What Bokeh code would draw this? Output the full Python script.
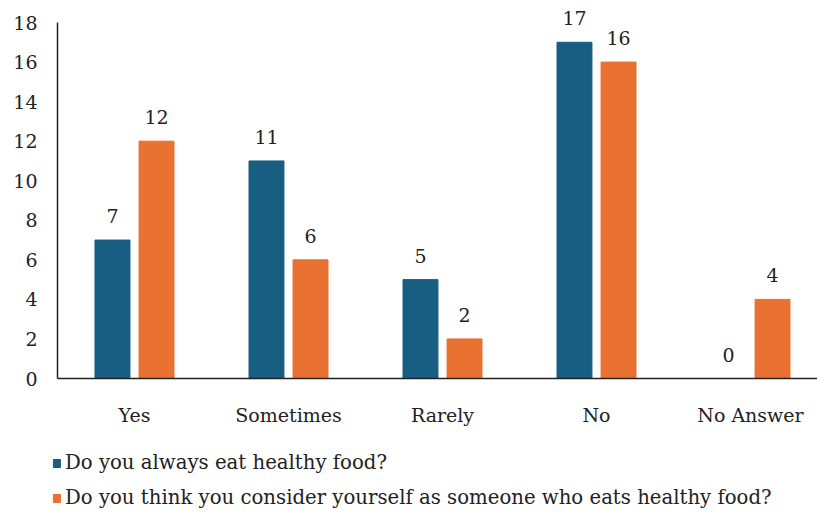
from bokeh.plotting import figure
from bokeh.layouts import column
from bokeh.models import ColumnDataSource, FixedTicker, Legend, LegendItem, Range1d
from bokeh.core.properties import value
from bokeh.embed import file_html
from bokeh.resources import INLINE

categories = ["Yes", "Sometimes", "Rarely", "No", "No Answer"]
always_healthy = [7, 11, 5, 17, 0]
consider_healthy = [12, 6, 2, 16, 4]
series_names = ["Do you always eat healthy food?",
                "Do you think you consider yourself as someone who eats healthy food?"]
y_ticks = [0, 2, 4, 6, 8, 10, 12, 14, 16, 18]

BLUE = "#175E82"
ORANGE = "#E97132"
FONT = "DejaVu Serif"

centers = [i + 0.5 for i in range(len(categories))]
off = 0.143
w = 0.227
src = ColumnDataSource(dict(
    xa=[c - off for c in centers], xb=[c + off for c in centers],
    a=always_healthy, b=consider_healthy,
    la=[str(v) for v in always_healthy], lb=[str(v) for v in consider_healthy],
))

p = figure(width=817, height=430, output_backend="svg", toolbar_location=None,
           x_range=Range1d(0, 4.935), y_range=Range1d(0, 18 * 378 / 356))
p.min_border_left = 57
p.min_border_right = 0
p.min_border_top = 0
p.min_border_bottom = 52
p.outline_line_color = None
p.xgrid.visible = False
p.ygrid.visible = False
p.frame_align = False

p.vbar(x="xa", top="a", width=w, source=src, fill_color=BLUE, line_color=BLUE)
p.vbar(x="xb", top="b", width=w, source=src, fill_color=ORANGE, line_color=ORANGE)

p.text(x="xa", y="a", text="la", source=src, text_align="center", text_baseline="bottom",
       y_offset=-17, text_font=value(FONT), text_font_size="19px", text_color="#222222")
p.text(x="xb", y="b", text="lb", source=src, text_align="center", text_baseline="bottom",
       y_offset=-17, text_font=value(FONT), text_font_size="19px", text_color="#222222")

p.xaxis.ticker = FixedTicker(ticks=centers)
p.xaxis.major_label_overrides = {c: cat for c, cat in zip(centers, categories)}
p.yaxis.ticker = FixedTicker(ticks=y_ticks)
p.yaxis.bounds = (0, 18)
for ax in (p.xaxis, p.yaxis):
    ax.major_tick_line_color = None
    ax.minor_tick_line_color = None
    ax.axis_line_color = "#222222"
    ax.axis_line_width = 1.5
    ax.major_label_text_font = FONT
    ax.major_label_text_font_size = "19px"
    ax.major_label_text_color = "#222222"
p.xaxis.major_label_standoff = 19
p.yaxis.major_label_standoff = 14

# legend panel (separate strip below the chart)
q = figure(width=817, height=85, output_backend="svg", toolbar_location=None,
           x_range=Range1d(0, 1), y_range=Range1d(0, 1),
           x_axis_location=None, y_axis_location=None)
q.min_border_left = 0
q.min_border_right = 0
q.min_border_top = 0
q.min_border_bottom = 0
q.grid.visible = False
q.outline_line_color = None
q.frame_align = False
hidden = ColumnDataSource(dict(x=[-10], top=[-10]))
qa = q.vbar(x="x", top="top", width=0.1, source=hidden, fill_color=BLUE, line_color=BLUE)
qb = q.vbar(x="x", top="top", width=0.1, source=hidden, fill_color=ORANGE, line_color=ORANGE)

legend = Legend(items=[LegendItem(label=series_names[0], renderers=[qa]),
                       LegendItem(label=series_names[1], renderers=[qb])],
                orientation="vertical", location=(52, 6),
                label_text_font=FONT, label_text_font_size="19.7px", label_text_color="#222222",
                glyph_width=9, glyph_height=10, spacing=12, label_height=20,
                border_line_color=None, background_fill_alpha=0,
                margin=0, padding=0, label_standoff=4)
q.add_layout(legend, "center")

layout = column(p, q, spacing=0)
open("out.html", "w").write(file_html(layout, INLINE))
